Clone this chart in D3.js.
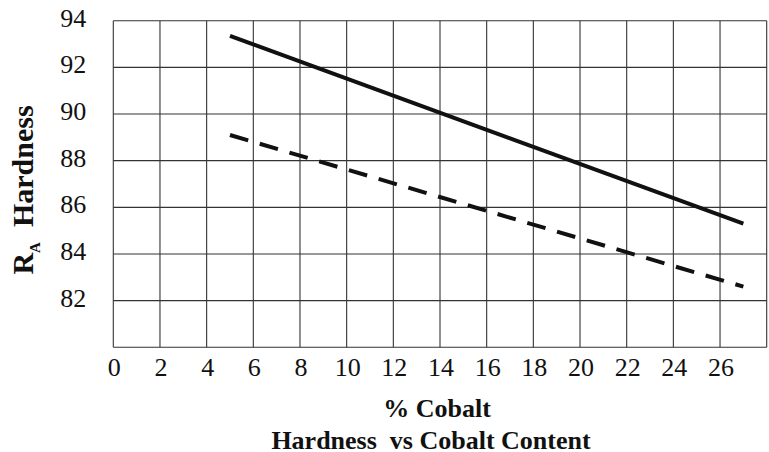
<!DOCTYPE html>
<html>
<head>
<meta charset="utf-8">
<script src="https://cdn.jsdelivr.net/npm/d3@7"></script>
<style>
  body { margin: 0; background: #fff; }
  svg { display: block; }
</style>
</head>
<body>
<svg width="769" height="452"></svg>
<script>
  // values
  const cobalt = [5, 27];
  const solidRA = [93.35, 85.3];
  const dashedRA = [89.1, 82.6];
  const xTickLabels = [0, 2, 4, 6, 8, 10, 12, 14, 16, 18, 20, 22, 24, 26];
  const yTickLabels = [82, 84, 86, 88, 90, 92, 94];
  const xGrid = [0, 2, 4, 6, 8, 10, 12, 14, 16, 18, 20, 22, 24, 26, 28];
  const yGrid = [80, 82, 84, 86, 88, 90, 92, 94];

  const serif = "'Liberation Serif', 'Times New Roman', Times, 'DejaVu Serif', serif";

  const svg = d3.select('svg')
    .attr('font-family', serif);
  const margin = { top: 20.7, left: 113.3 };
  const innerWidth = 653.4;
  const innerHeight = 326.6;

  const xScale = d3.scaleLinear().domain([0, 28]).range([0, innerWidth]);
  const yScale = d3.scaleLinear().domain([80, 94]).range([innerHeight, 0]);

  const g = svg.append('g')
    .attr('transform', `translate(${margin.left},${margin.top})`);

  // grid
  g.selectAll('.vgrid').data(xGrid).enter().append('line')
    .attr('x1', d => xScale(d)).attr('x2', d => xScale(d))
    .attr('y1', 0).attr('y2', innerHeight)
    .attr('stroke', '#333').attr('stroke-width', 1.1);
  g.selectAll('.hgrid').data(yGrid).enter().append('line')
    .attr('y1', d => yScale(d)).attr('y2', d => yScale(d))
    .attr('x1', 0).attr('x2', innerWidth)
    .attr('stroke', '#333').attr('stroke-width', 1.1);

  // tick labels
  g.selectAll('.xlab').data(xTickLabels).enter().append('text')
    .attr('x', d => xScale(d) + 1)
    .attr('y', innerHeight + 28.5)
    .attr('text-anchor', 'middle')
    .attr('font-family', serif)
    .attr('font-size', 26)
    .attr('fill', '#111')
    .text(d => d);
  g.selectAll('.ylab').data(yTickLabels).enter().append('text')
    .attr('x', -27)
    .attr('y', d => yScale(d) + 6)
    .attr('text-anchor', 'end')
    .attr('font-family', serif)
    .attr('font-size', 26)
    .attr('fill', '#111')
    .text(d => d);

  // lines
  const pts = ys => cobalt.map((c, i) => [c, ys[i]]);
  const line = d3.line().x(d => xScale(d[0])).y(d => yScale(d[1]));

  g.append('path').datum(pts(solidRA))
    .attr('d', line)
    .attr('fill', 'none').attr('stroke', '#111').attr('stroke-width', 4);
  g.append('path').datum(pts(dashedRA))
    .attr('d', line)
    .attr('fill', 'none').attr('stroke', '#111').attr('stroke-width', 4)
    .attr('stroke-dasharray', '19,12');

  // axis titles
  svg.append('text')
    .attr('x', 437).attr('y', 416.5)
    .attr('text-anchor', 'middle')
    .attr('font-family', serif)
    .attr('font-size', 26).attr('font-weight', 'bold')
    .attr('fill', '#111')
    .text('% Cobalt');
  svg.append('text')
    .attr('x', 431).attr('y', 448.5)
    .attr('text-anchor', 'middle')
    .attr('font-family', serif)
    .attr('font-size', 26).attr('font-weight', 'bold')
    .attr('fill', '#111')
    .style('white-space', 'pre')
    .text('Hardness  vs Cobalt Content');

  const yt = svg.append('text')
    .attr('transform', 'translate(33,190) rotate(-90)')
    .attr('text-anchor', 'middle')
    .attr('font-family', serif)
    .attr('font-size', 30).attr('font-weight', 'bold')
    .attr('fill', '#111')
    .style('white-space', 'pre');
  yt.append('tspan').text('R');
  yt.append('tspan').attr('font-size', 15).attr('dy', 7).text('A');
  yt.append('tspan').attr('dy', -7).text('  Hardness');
</script>
</body>
</html>
